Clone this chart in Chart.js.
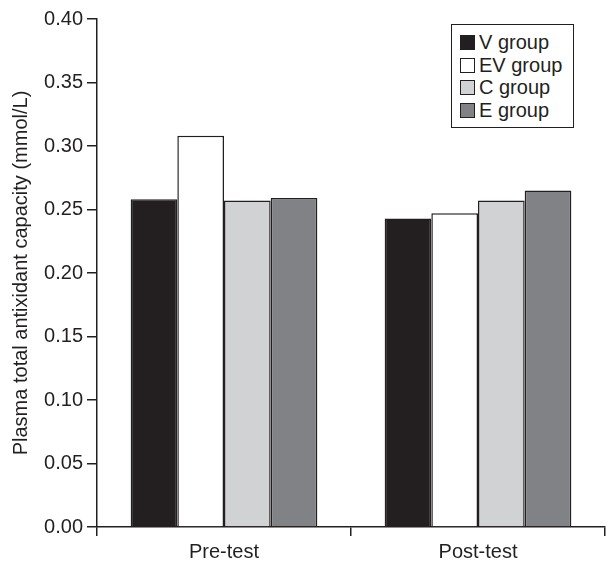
<!DOCTYPE html>
<html>
<head>
<meta charset="utf-8">
<script src="https://cdn.jsdelivr.net/npm/chart.js@4.4.0/dist/chart.umd.min.js"></script>
<style>
    html, body { margin: 0; padding: 0; background: #ffffff; }
    #wrap { position: relative; width: 609px; height: 566px; }
    #legend {
        position: absolute; left: 451px; top: 24px; width: 123px; height: 104px;
        border: 1.5px solid #231f20; background: #fff;
        font-family: "Liberation Sans", Arial, sans-serif; font-size: 20px; color: #231f20;
        padding: 6px 0 0 8px; box-sizing: border-box;
    }
    #legend .item { display: flex; align-items: center; height: 22.7px; }
    #legend .sw { width: 15px; height: 15px; border: 1.2px solid #231f20; margin-right: 4px; box-sizing: border-box; }
</style>
</head>
<body>
<div id="wrap">
    <canvas id="barChart" width="609" height="566"></canvas>
    <div id="legend"></div>
</div>
<script>
// categories and series
const categories = ["Pre-test", "Post-test"];
const seriesNames = ["V group", "EV group", "C group", "E group"];
const vGroup = [0.258, 0.243];
const evGroup = [0.308, 0.247];
const cGroup = [0.257, 0.257];
const eGroup = [0.259, 0.265];
const yTicks = [0, 0.05, 0.1, 0.15, 0.2, 0.25, 0.3, 0.35, 0.4];

const colors = ["#231f20", "#ffffff", "#d1d2d4", "#808285"];
const ink = "#231f20";
const font = "'Liberation Sans', Arial, sans-serif";

const ctx = document.getElementById("barChart").getContext("2d");

new Chart(ctx, {
    type: "bar",
    data: {
        labels: categories,
        datasets: [vGroup, evGroup, cGroup, eGroup].map((d, i) => ({
            label: seriesNames[i],
            data: d,
            backgroundColor: colors[i],
            borderColor: ink,
            borderWidth: 1.5,
            categoryPercentage: 0.735,
            barPercentage: 1.0,
        })),
    },
    options: {
        responsive: false,
        animation: false,
        layout: { padding: { top: 19, right: 4, left: 0, bottom: 0 } },
        plugins: { legend: { display: false }, tooltip: { enabled: false } },
        scales: {
            y: {
                min: 0,
                max: 0.4,
                afterBuildTicks: (s) => { s.ticks = yTicks.map((v) => ({ value: v })); },
                afterFit: (s) => { s.width = 97; },
                border: { display: true, color: ink, width: 1.5 },
                grid: { drawOnChartArea: false, drawTicks: true, tickLength: 10, color: ink, lineWidth: 1.5 },
                ticks: {
                    color: ink,
                    padding: 4,
                    font: { family: font, size: 20 },
                    callback: (v) => Number(v).toFixed(2),
                },
                title: {
                    display: true,
                    text: "Plasma total antixidant capacity (mmol/L)",
                    color: ink,
                    font: { family: font, size: 20 },
                    padding: { top: 9, bottom: 0 },
                },
            },
            x: {
                afterFit: (s) => { s.height = 39; },
                border: { display: true, color: ink, width: 1.5 },
                grid: { offset: true, drawOnChartArea: false, drawTicks: true, tickLength: 9, color: ink, lineWidth: 1.5 },
                ticks: {
                    color: ink,
                    padding: 4,
                    font: { family: font, size: 20 },
                },
            },
        },
    },
});

// legend box
const legendBox = document.getElementById("legend");
seriesNames.forEach((name, i) => {
    legendBox.innerHTML += `
<div class="item">
    <span class="sw" style="background-color: ${colors[i]}"></span>
    <span>${name}</span>
</div>
`;
});
</script>
</body>
</html>
